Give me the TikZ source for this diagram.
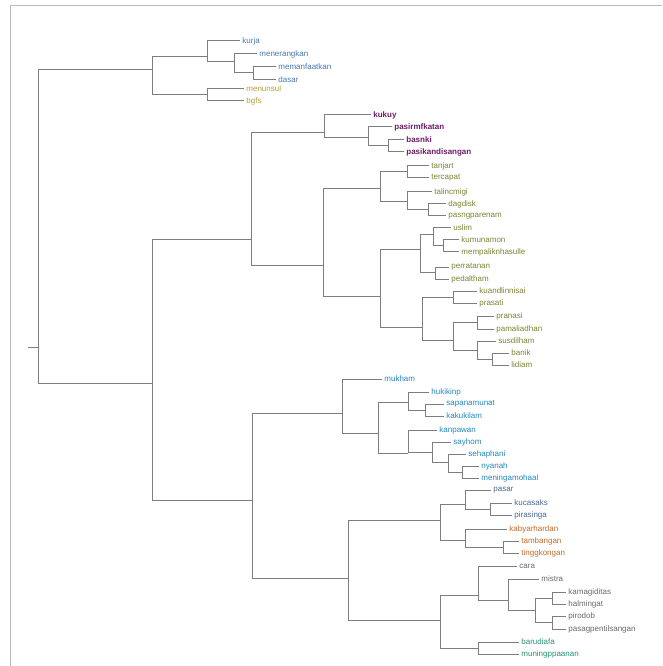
\documentclass[tikz,border=0pt]{standalone}
\usepackage{fontspec}
\setmainfont{Liberation Sans}
\usepackage{xcolor}
\usepackage{tikz}
\definecolor{branchgray}{RGB}{125,125,125}
\definecolor{framegray}{RGB}{185,185,185}
\definecolor{leafblue}{RGB}{70,120,180}
\definecolor{leafolive}{RGB}{175,160,60}
\definecolor{leafpurple}{RGB}{110,25,105}
\definecolor{leafgreen}{RGB}{125,130,50}
\definecolor{leafcyan}{RGB}{35,135,190}
\definecolor{leafslate}{RGB}{70,105,150}
\definecolor{leaforange}{RGB}{195,105,40}
\definecolor{leafgray}{RGB}{105,105,105}
\definecolor{leafteal}{RGB}{40,145,115}
\tikzstyle{branch} = [draw=branchgray, line width=0.75pt]
\tikzstyle{leaf} = [anchor=west, inner sep=1.6pt, font=\fontsize{6}{7}\selectfont]
\tikzstyle{blueleaf} = [leaf, text=leafblue]
\tikzstyle{oliveleaf} = [leaf, text=leafolive]
\tikzstyle{purpleleaf} = [leaf, text=leafpurple, font=\fontsize{6}{7}\selectfont\bfseries]
\tikzstyle{greenleaf} = [leaf, text=leafgreen]
\tikzstyle{cyanleaf} = [leaf, text=leafcyan]
\tikzstyle{slateleaf} = [leaf, text=leafslate]
\tikzstyle{orangeleaf} = [leaf, text=leaforange]
\tikzstyle{grayleaf} = [leaf, text=leafgray]
\tikzstyle{tealleaf} = [leaf, text=leafteal]
\begin{document}
\begin{tikzpicture}[x=0.75pt, y=-0.75pt]
    \useasboundingbox (0,0) rectangle (662,666);
    \draw[framegray, line width=0.8pt] (10.5,666) -- (10.5,5.5) -- (662,5.5);
    \coordinate (rootin) at (28,347);
    \coordinate (root) at (38,347);
    \coordinate (top) at (152,70);
    \coordinate (t1) at (207,57);
    \coordinate (t2) at (234,62);
    \coordinate (t3) at (253,73);
    \coordinate (t4) at (207,95);
    \node [blueleaf] (kurja) at (240,41) {kurja};
    \node [blueleaf] (menerangkan) at (257,54) {menerangkan};
    \node [blueleaf] (memanfaatkan) at (276,67) {memanfaatkan};
    \node [blueleaf] (dasar) at (276,80) {dasar};
    \node [oliveleaf] (menunsul) at (244,89) {menunsul};
    \node [oliveleaf] (bgfs) at (244,101) {bgfs};
    \coordinate (mid) at (152,383);
    \coordinate (up) at (251,240);
    \coordinate (p1) at (324,133);
    \coordinate (p2) at (368,138);
    \coordinate (p3) at (388,146);
    \node [purpleleaf] (kukuy) at (371,115) {kukuy};
    \node [purpleleaf] (pasirmfkatan) at (392,127) {pasirmfkatan};
    \node [purpleleaf] (basnki) at (404,140) {basnki};
    \node [purpleleaf] (pasikandisangan) at (404,152) {pasikandisangan};
    \coordinate (q1) at (323,265);
    \coordinate (q2) at (380,189);
    \coordinate (q3) at (407,172);
    \coordinate (q4) at (407,202);
    \coordinate (q4b) at (428,210);
    \coordinate (q5) at (380,296);
    \coordinate (q6) at (420,250);
    \coordinate (q7) at (433,235);
    \coordinate (q7b) at (443,246);
    \coordinate (q8) at (435,272);
    \coordinate (q9) at (422,327);
    \coordinate (q10) at (453,297);
    \coordinate (q11) at (453,340);
    \coordinate (q12) at (477,322);
    \coordinate (q13) at (477,350);
    \coordinate (q14) at (492,359);
    \node [greenleaf] (tanjart) at (429,166) {tanjart};
    \node [greenleaf] (tercapat) at (429,178) {tercapat};
    \node [greenleaf] (talincmigi) at (432,192) {talincmigi};
    \node [greenleaf] (dagdisk) at (446,204) {dagdisk};
    \node [greenleaf] (pasngparenam) at (446,216) {pasngparenam};
    \node [greenleaf] (uslim) at (451,228) {uslim};
    \node [greenleaf] (kumunamon) at (459,240) {kumunamon};
    \node [greenleaf] (mempaliknhasulle) at (459,252) {mempaliknhasulle};
    \node [greenleaf] (perratanan) at (449,267) {perratanan};
    \node [greenleaf] (pedaltham) at (449,279) {pedaltham};
    \node [greenleaf] (kuandlinnisai) at (477,291) {kuandlinnisai};
    \node [greenleaf] (prasati) at (477,303) {prasati};
    \node [greenleaf] (pranasi) at (494,316) {pranasi};
    \node [greenleaf] (pamaliadhan) at (494,329) {pamaliadhan};
    \node [greenleaf] (susdilham) at (496,341) {susdilham};
    \node [greenleaf] (banik) at (509,353) {banik};
    \node [greenleaf] (lidiam) at (509,365) {lidiam};
    \coordinate (lo) at (252,500);
    \coordinate (c1) at (342,413);
    \coordinate (c2) at (378,433);
    \coordinate (c3) at (408,402);
    \coordinate (c4) at (425,410);
    \coordinate (c8) at (408,453);
    \coordinate (c5) at (432,452);
    \coordinate (c6) at (448,462);
    \coordinate (c7) at (462,472);
    \node [cyanleaf] (mukham) at (382,379) {mukham};
    \node [cyanleaf] (hukikinp) at (429,392) {hukikinp};
    \node [cyanleaf] (sapanamunat) at (444,404) {sapanamunat};
    \node [cyanleaf] (kakukilam) at (444,416) {kakukilam};
    \node [cyanleaf] (kanpawan) at (437,430) {kanpawan};
    \node [cyanleaf] (sayhom) at (451,442) {sayhom};
    \node [cyanleaf] (sehaphani) at (466,454) {sehaphani};
    \node [cyanleaf] (nyanah) at (479,466) {nyanah};
    \node [cyanleaf] (meningamohaal) at (479,478) {meningamohaal};
    \coordinate (lr) at (348,578);
    \coordinate (bo) at (440,520);
    \coordinate (b1) at (465,504);
    \coordinate (b2) at (490,509);
    \coordinate (o1) at (465,540);
    \coordinate (o2) at (503,547);
    \coordinate (gt) at (440,620);
    \coordinate (g1) at (478,595);
    \coordinate (g2) at (508,600);
    \coordinate (g3) at (535,610);
    \coordinate (g4) at (552,598);
    \coordinate (g5) at (552,622);
    \coordinate (tt) at (478,648);
    \node [slateleaf] (pasar) at (491,490) {pasar};
    \node [slateleaf] (kucasaks) at (512,503) {kucasaks};
    \node [slateleaf] (pirasinga) at (512,515) {pirasinga};
    \node [orangeleaf] (kabyarhardan) at (507,529) {kabyarhardan};
    \node [orangeleaf] (tambangan) at (519,541) {tambangan};
    \node [orangeleaf] (tinggkongan) at (519,553) {tinggkongan};
    \node [grayleaf] (cara) at (517,566) {cara};
    \node [grayleaf] (mistra) at (539,579) {mistra};
    \node [grayleaf] (kamagiditas) at (566,592) {kamagiditas};
    \node [grayleaf] (halmingat) at (566,604) {halmingat};
    \node [grayleaf] (pirodob) at (566,616) {pirodob};
    \node [grayleaf] (pasagpentilsangan) at (566,629) {pasagpentilsangan};
    \node [tealleaf] (barudiafa) at (519,642) {barudiafa};
    \node [tealleaf] (muningppaanan) at (519,654) {muningppaanan};
    \draw [branch] (rootin) -- (root);
    \draw [branch] (root) |- (top);
    \draw [branch] (root) |- (mid);
    \draw [branch] (top) |- (t1);
    \draw [branch] (top) |- (t4);
    \draw [branch] (t1) |- (kurja);
    \draw [branch] (t1) |- (t2);
    \draw [branch] (t2) |- (menerangkan);
    \draw [branch] (t2) |- (t3);
    \draw [branch] (t3) |- (memanfaatkan);
    \draw [branch] (t3) |- (dasar);
    \draw [branch] (t4) |- (menunsul);
    \draw [branch] (t4) |- (bgfs);
    \draw [branch] (mid) |- (up);
    \draw [branch] (mid) |- (lo);
    \draw [branch] (up) |- (p1);
    \draw [branch] (up) |- (q1);
    \draw [branch] (p1) |- (kukuy);
    \draw [branch] (p1) |- (p2);
    \draw [branch] (p2) |- (pasirmfkatan);
    \draw [branch] (p2) |- (p3);
    \draw [branch] (p3) |- (basnki);
    \draw [branch] (p3) |- (pasikandisangan);
    \draw [branch] (q1) |- (q2);
    \draw [branch] (q1) |- (q5);
    \draw [branch] (q2) |- (q3);
    \draw [branch] (q2) |- (q4);
    \draw [branch] (q3) |- (tanjart);
    \draw [branch] (q3) |- (tercapat);
    \draw [branch] (q4) |- (talincmigi);
    \draw [branch] (q4) |- (q4b);
    \draw [branch] (q4b) |- (dagdisk);
    \draw [branch] (q4b) |- (pasngparenam);
    \draw [branch] (q5) |- (q6);
    \draw [branch] (q5) |- (q9);
    \draw [branch] (q6) |- (q7);
    \draw [branch] (q6) |- (q8);
    \draw [branch] (q7) |- (uslim);
    \draw [branch] (q7) |- (q7b);
    \draw [branch] (q7b) |- (kumunamon);
    \draw [branch] (q7b) |- (mempaliknhasulle);
    \draw [branch] (q8) |- (perratanan);
    \draw [branch] (q8) |- (pedaltham);
    \draw [branch] (q9) |- (q10);
    \draw [branch] (q9) |- (q11);
    \draw [branch] (q10) |- (kuandlinnisai);
    \draw [branch] (q10) |- (prasati);
    \draw [branch] (q11) |- (q12);
    \draw [branch] (q11) |- (q13);
    \draw [branch] (q12) |- (pranasi);
    \draw [branch] (q12) |- (pamaliadhan);
    \draw [branch] (q13) |- (susdilham);
    \draw [branch] (q13) |- (q14);
    \draw [branch] (q14) |- (banik);
    \draw [branch] (q14) |- (lidiam);
    \draw [branch] (lo) |- (c1);
    \draw [branch] (lo) |- (lr);
    \draw [branch] (c1) |- (mukham);
    \draw [branch] (c1) |- (c2);
    \draw [branch] (c2) |- (c3);
    \draw [branch] (c2) |- (c8);
    \draw [branch] (c3) |- (hukikinp);
    \draw [branch] (c3) |- (c4);
    \draw [branch] (c4) |- (sapanamunat);
    \draw [branch] (c4) |- (kakukilam);
    \draw [branch] (c8) |- (kanpawan);
    \draw [branch] (c8) |- (c5);
    \draw [branch] (c5) |- (sayhom);
    \draw [branch] (c5) |- (c6);
    \draw [branch] (c6) |- (sehaphani);
    \draw [branch] (c6) |- (c7);
    \draw [branch] (c7) |- (nyanah);
    \draw [branch] (c7) |- (meningamohaal);
    \draw [branch] (lr) |- (bo);
    \draw [branch] (lr) |- (gt);
    \draw [branch] (bo) |- (b1);
    \draw [branch] (bo) |- (o1);
    \draw [branch] (b1) |- (pasar);
    \draw [branch] (b1) |- (b2);
    \draw [branch] (b2) |- (kucasaks);
    \draw [branch] (b2) |- (pirasinga);
    \draw [branch] (o1) |- (kabyarhardan);
    \draw [branch] (o1) |- (o2);
    \draw [branch] (o2) |- (tambangan);
    \draw [branch] (o2) |- (tinggkongan);
    \draw [branch] (gt) |- (g1);
    \draw [branch] (gt) |- (tt);
    \draw [branch] (g1) |- (cara);
    \draw [branch] (g1) |- (g2);
    \draw [branch] (g2) |- (mistra);
    \draw [branch] (g2) |- (g3);
    \draw [branch] (g3) |- (g4);
    \draw [branch] (g3) |- (g5);
    \draw [branch] (g4) |- (kamagiditas);
    \draw [branch] (g4) |- (halmingat);
    \draw [branch] (g5) |- (pirodob);
    \draw [branch] (g5) |- (pasagpentilsangan);
    \draw [branch] (tt) |- (barudiafa);
    \draw [branch] (tt) |- (muningppaanan);
\end{tikzpicture}
\end{document}
